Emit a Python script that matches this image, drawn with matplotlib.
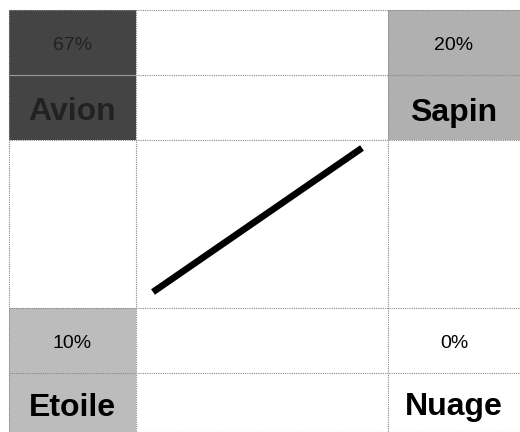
import matplotlib.pyplot as plt
import matplotlib.patches as patches

plt.rcParams['font.family'] = ['Liberation Sans', 'DejaVu Sans']

# four corner categories and their share
labels = ['Avion', 'Sapin', 'Etoile', 'Nuage']
percents = [67, 20, 10, 0]
fills = ['#444444', '#b0b0b0', '#bcbcbc', '#ffffff']

# table layout (pixel units)
col_edges = [9, 136, 388, 520]
row_edges = [10, 75, 140, 308, 373, 432]
corners = [(0, 0), (2, 0), (0, 3), (2, 3)]  # (column, first row)

# central trend line
line_x = [153, 362]
line_y = [292, 148]

fig = plt.figure(figsize=(5.2, 4.32), dpi=100)
ax = fig.add_axes([0, 0, 1, 1])
ax.set_xlim(0, 520)
ax.set_ylim(432, 0)
ax.axis('off')

grid = dict(color='#888888', lw=0.8, ls=(0, (1, 1)), zorder=3)
for y in row_edges:
    ax.plot([col_edges[0], col_edges[-1]], [y, y], **grid)
for x in col_edges[:-1]:
    ax.plot([x, x], [row_edges[0], row_edges[-1]], **grid)

for (c, r), lab, p, f in zip(corners, labels, percents, fills):
    x0, x1 = col_edges[c], col_edges[c + 1]
    y0, y1, y2 = row_edges[r], row_edges[r + 1], row_edges[r + 2]
    ax.add_patch(patches.Rectangle((x0, y0), x1 - x0, y2 - y0,
                                   facecolor=f, edgecolor='none', zorder=2))
    if p > 50:
        ax.plot([x0, x1], [y1, y1], color='#9a9a9a', lw=0.8, zorder=4)
    xm = (x0 + x1) / 2
    ax.text(xm, (y0 + y1) / 2 + 3, f'{p}%', ha='center', va='center',
            fontsize=14, color='#222222' if p > 50 else 'black', zorder=5)
    ax.text(xm, (y1 + y2) / 2 + 5, lab, ha='center', va='center',
            fontsize=23, fontweight='bold',
            color='#222222' if p > 50 else 'black', zorder=5)

ax.plot(line_x, line_y, color='black', lw=4.8, solid_capstyle='butt', zorder=6)

fig.savefig('out.png', dpi=100, facecolor='white')
